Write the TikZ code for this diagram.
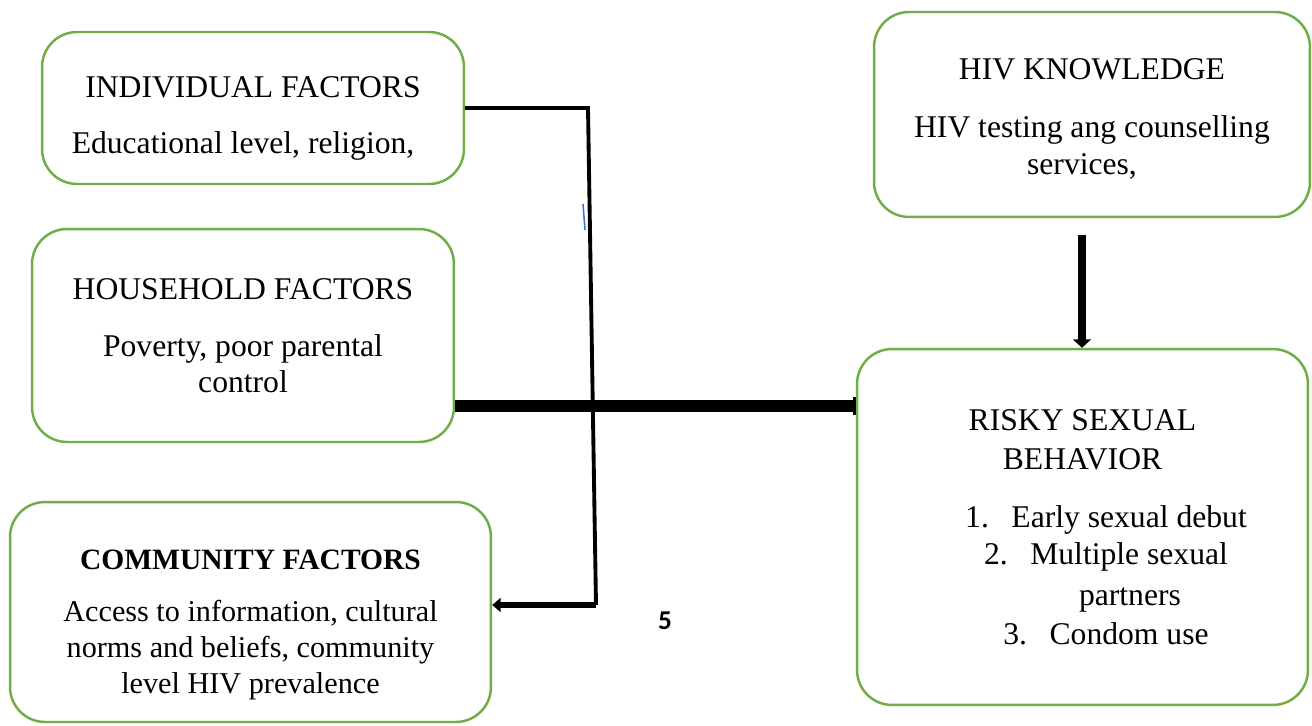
\documentclass[tikz,border=0pt]{standalone}
\usepackage{fontspec}
\setmainfont{Liberation Serif}
\newfontfamily\pagenumfont{Carlito}
\usetikzlibrary{arrows.meta,positioning,calc}
\definecolor{boxgreen}{HTML}{70AD47}
\definecolor{markblue}{HTML}{4472C4}
\newcommand{\toppad}[1]{\rule{0pt}{#1}}

\tikzset{
  factor/.style={draw=boxgreen, line width=1.4pt, rounded corners=0.7cm,
    align=center, inner sep=0pt, font=\fontsize{18}{20.5}\selectfont},
  link/.style={line width=2.2pt, line join=miter},
  linkarrow/.style={line width=3.7pt, -{Triangle[length=0.17cm, width=0.28cm]}},
  hhlink/.style={line width=6.3pt, -{Bar[width=0.36cm, line width=1.8pt]}},
  knowarrow/.style={line width=5.1pt, -{Triangle[length=0.17cm, width=0.36cm]}},
}

\begin{document}
\begin{tikzpicture}[x=0.02cm, y=-0.02cm]
  \useasboundingbox (0,0) rectangle (1312,726);

  % factor boxes
  \node[factor, minimum width=8.44cm, minimum height=3.04cm] (indiv) at (253,108)
    {\toppad{23.6pt}INDIVIDUAL FACTORS\\[0.4cm] Educational level, religion,\hspace*{0.4cm}};
  \node[factor, minimum width=8.44cm, minimum height=4.26cm] (hh) at (243,335.5)
    {HOUSEHOLD FACTORS\\[0.42cm] Poverty, poor parental\\ control};
  \node[factor, minimum width=9.62cm, minimum height=4.4cm, font=\fontsize{17.2}{20.5}\selectfont] (comm) at (250.5,612)
    {\toppad{26pt}\textbf{\fontsize{16.8}{20.5}\selectfont COMMUNITY FACTORS}\\[0.32cm] Access to information, cultural\\
     norms and beliefs, community\\ level HIV prevalence};
  \node[factor, minimum width=8.72cm, minimum height=4.1cm] (know) at (1092,114.5)
    {\toppad{17pt}HIV KNOWLEDGE\\[0.44cm] HIV testing ang counselling\\ services,\hspace*{0.4cm}};
  \node[factor, minimum width=9.02cm, minimum height=7.12cm] (risky) at (1082.5,527)
    {RISKY SEXUAL\\[0.06cm] BEHAVIOR\\[0.44cm]
     \hspace*{0.94cm}1.\hspace{0.45cm}Early sexual debut\\[0.02cm]
     \hspace*{0.94cm}2.\hspace{0.45cm}Multiple sexual\\[0.1cm]
     \hspace*{1.9cm}partners\\[0.06cm]
     \hspace*{0.94cm}3.\hspace{0.45cm}Condom use};

  \node[font=\pagenumfont\bfseries\fontsize{15.5}{18}\selectfont] (pagenum) at (665,621) {5};

  % connectors
  \coordinate (jtop) at (588,108);
  \coordinate (jbot) at (596,605);
  \coordinate (hhy) at (0,406);
  \coordinate (karr) at (1082,235);
  \draw[link] (indiv.east) -- (jtop) -- (jbot);
  \draw[linkarrow] (jbot) -- (jbot -| comm.east);
  \draw[hhlink] (hh.east |- hhy) -- (risky.west |- hhy);
  \draw[knowarrow] (karr) -- (karr |- risky.north);

  \draw[markblue, line width=0.9pt] (583,204) -- (585,230);
\end{tikzpicture}
\end{document}
